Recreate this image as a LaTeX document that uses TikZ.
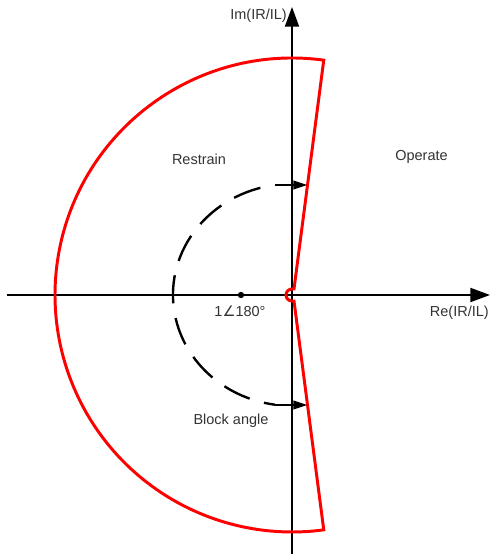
\documentclass[tikz,border=0pt]{standalone}
\usepackage{fontspec}
\setmainfont{Liberation Sans}
\newfontfamily\symfont{DejaVu Sans}
\usepackage{tikz}
\usetikzlibrary{arrows.meta, positioning, calc}
\definecolor{TripRed}{HTML}{FF0000}
\definecolor{LabelGrey}{HTML}{333333}

\begin{document}
\begin{tikzpicture}[
    x=0.025cm, y=0.025cm,
    axis/.style={line width=1.3pt, -{Triangle[length=14pt, width=10pt]}},
    relay/.style={draw=TripRed, line width=2.1pt},
    blockarc/.style={line width=1.7pt, dash pattern=on 20pt off 10.6pt, dash phase=20pt},
    reach/.style={line width=1.7pt, -{Triangle[length=10pt, width=6pt]}},
    lbl/.style={text=LabelGrey, font=\fontsize{10.3}{12}\selectfont, inner sep=0pt}
]
\useasboundingbox (-292,-259) rectangle (199,295);
% axes
\coordinate (O) at (0,0);
\coordinate (xl) at (-285,0);
\coordinate (xr) at (198,0);
\coordinate (yb) at (0,-259);
\coordinate (yt) at (0,288);
\draw[axis] (xl) -- (xr);
\draw[axis] (yb) -- (yt);
\node[lbl, anchor=east] (im) at (-5,279) {Im(IR/IL)};
\node[lbl, anchor=east] (re) at (197,-18) {Re(IR/IL)};
% relay characteristic
\coordinate (tc) at (82.3:237);
\coordinate (bc) at (277.7:237);
\draw[relay] (tc) arc[start angle=82.3, end angle=277.7, radius=237]
    -- (2,-6) -- (0,-6) arc[start angle=270, end angle=90, radius=6] -- (2,6) -- cycle;
% block angle
\coordinate (ta) at (-17,110);
\coordinate (ba) at (-17,-110);
\draw[blockarc] (ta) arc[start angle=98.2, end angle=261.8, x radius=119, y radius=111];
\coordinate (tr) at (15.5,110);
\coordinate (br) at (15.5,-110);
\draw[reach] (ta) -- (tr);
\draw[reach] (ba) -- (br);
\node[circle, fill=black, inner sep=0pt, minimum size=4.5pt] (pt) at (-51,0) {};
\node[lbl] (pl) at (-52,-16) {1{\symfont ∠}180°};
% regions
\node[lbl] (rs) at (-93,136) {Restrain};
\node[lbl] (op) at (129.5,138) {Operate};
\node[lbl] (bl) at (-61,-126) {Block angle};
\end{tikzpicture}
\end{document}
